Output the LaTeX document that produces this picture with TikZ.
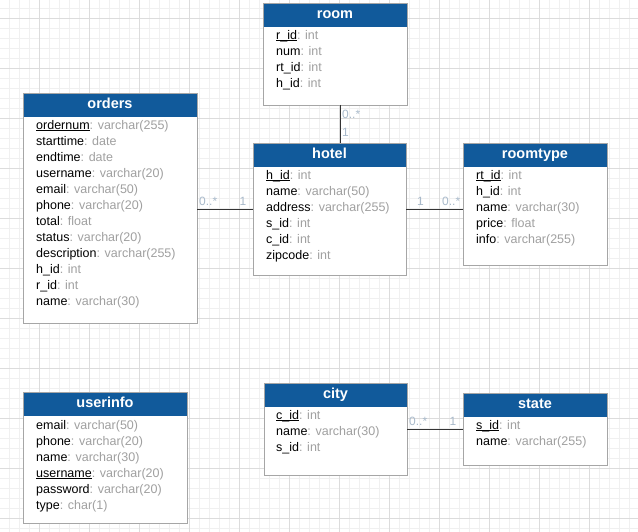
\documentclass[tikz,border=0pt]{standalone}
\usepackage{fontspec}
\setmainfont{Liberation Sans}
\usetikzlibrary{calc}

\definecolor{headblue}{HTML}{115A9B}
\definecolor{boxline}{HTML}{A6A6A6}
\definecolor{typegray}{HTML}{A0A0A0}
\definecolor{multgray}{HTML}{A9BACB}
\definecolor{gridminor}{HTML}{F0F0F0}
\definecolor{gridmajor}{HTML}{DCDCDC}
\definecolor{connline}{HTML}{333333}

% attribute helpers: key name underlined just below the baseline, type in grey
\newcommand\pkey[1]{\setbox0\hbox{#1}\rlap{\rule[-1.8pt]{\wd0}{0.9pt}}\box0}
\newcommand\atype[1]{\textcolor{typegray}{: #1}}

\tikzset{
  entitybox/.style={draw=boxline, fill=white, line width=0.9pt, inner sep=0pt, outer sep=0pt, anchor=north west},
  headbox/.style={fill=headblue, inner sep=0pt, outer sep=0pt, anchor=north west, minimum height=24pt,
    text=white, font=\fontsize{14.5}{16}\selectfont\bfseries, text height=10.5pt, text depth=3pt},
  fieldtext/.style={anchor=base west, inner sep=0pt, font=\fontsize{12.5}{15}\selectfont},
  multlabel/.style={anchor=west, inner sep=0pt, text=multgray, font=\fontsize{12}{14}\selectfont},
  conn/.style={draw=connline, line width=0.9pt},
}

\begin{document}
\begin{tikzpicture}[x=1pt, y=-1pt]
\useasboundingbox (0,0) rectangle (638,532);
\fill[white] (0,0) rectangle (638,532);

% background grid
\foreach \gx in {9,19,...,629} \draw[gridminor, line width=0.8pt] (\gx,0) -- (\gx,532);
\foreach \gy in {8,18,...,528} \draw[gridminor, line width=0.8pt] (0,\gy) -- (638,\gy);
\foreach \gx in {39,89,...,589} \draw[gridmajor, line width=0.8pt] (\gx,0) -- (\gx,532);
\foreach \gy in {18,68,...,518} \draw[gridmajor, line width=0.8pt] (0,\gy) -- (638,\gy);

% ---------- room ----------
\node[entitybox, minimum width=144pt, minimum height=102pt] (room) at (263,3) {};
\node[headbox, minimum width=144pt] (roomH) at (room.north west) {room};
\draw[boxline, line width=0.9pt] (room.north west) rectangle (room.south east);
\node[fieldtext] (room1) at (276,39.5) {\pkey{r\_id}\atype{int}};
\node[fieldtext] (room2) at (276,55.5) {num\atype{int}};
\node[fieldtext] (room3) at (276,71.5) {rt\_id\atype{int}};
\node[fieldtext] (room4) at (276,87.5) {h\_id\atype{int}};

% ---------- orders ----------
\node[entitybox, minimum width=174pt, minimum height=230pt] (orders) at (23,93) {};
\node[headbox, minimum width=174pt] (ordersH) at (orders.north west) {orders};
\draw[boxline, line width=0.9pt] (orders.north west) rectangle (orders.south east);
\node[fieldtext] (ord1) at (36,129.5) {\pkey{ordernum}\atype{varchar(255)}};
\node[fieldtext] (ord2) at (36,145.5) {starttime\atype{date}};
\node[fieldtext] (ord3) at (36,161.5) {endtime\atype{date}};
\node[fieldtext] (ord4) at (36,177.5) {username\atype{varchar(20)}};
\node[fieldtext] (ord5) at (36,193.5) {email\atype{varchar(50)}};
\node[fieldtext] (ord6) at (36,209.5) {phone\atype{varchar(20)}};
\node[fieldtext] (ord7) at (36,225.5) {total\atype{float}};
\node[fieldtext] (ord8) at (36,241.5) {status\atype{varchar(20)}};
\node[fieldtext] (ord9) at (36,257.5) {description\atype{varchar(255)}};
\node[fieldtext] (ord10) at (36,273.5) {h\_id\atype{int}};
\node[fieldtext] (ord11) at (36,289.5) {r\_id\atype{int}};
\node[fieldtext] (ord12) at (36,305.5) {name\atype{varchar(30)}};

% ---------- hotel ----------
\node[entitybox, minimum width=153pt, minimum height=132pt] (hotel) at (253,143) {};
\node[headbox, minimum width=153pt] (hotelH) at (hotel.north west) {hotel};
\draw[boxline, line width=0.9pt] (hotel.north west) rectangle (hotel.south east);
\node[fieldtext] (hot1) at (266,179.5) {\pkey{h\_id}\atype{int}};
\node[fieldtext] (hot2) at (266,195.5) {name\atype{varchar(50)}};
\node[fieldtext] (hot3) at (266,211.5) {address\atype{varchar(255)}};
\node[fieldtext] (hot4) at (266,227.5) {s\_id\atype{int}};
\node[fieldtext] (hot5) at (266,243.5) {c\_id\atype{int}};
\node[fieldtext] (hot6) at (266,259.5) {zipcode\atype{int}};

% ---------- roomtype ----------
\node[entitybox, minimum width=144pt, minimum height=122pt] (roomtype) at (463,143) {};
\node[headbox, minimum width=144pt] (roomtypeH) at (roomtype.north west) {roomtype};
\draw[boxline, line width=0.9pt] (roomtype.north west) rectangle (roomtype.south east);
\node[fieldtext] (rt1) at (476,179.5) {\pkey{rt\_id}\atype{int}};
\node[fieldtext] (rt2) at (476,195.5) {h\_id\atype{int}};
\node[fieldtext] (rt3) at (476,211.5) {name\atype{varchar(30)}};
\node[fieldtext] (rt4) at (476,227.5) {price\atype{float}};
\node[fieldtext] (rt5) at (476,243.5) {info\atype{varchar(255)}};

% ---------- userinfo ----------
\node[entitybox, minimum width=164pt, minimum height=131pt] (userinfo) at (23,392) {};
\node[headbox, minimum width=164pt] (userinfoH) at (userinfo.north west) {userinfo};
\draw[boxline, line width=0.9pt] (userinfo.north west) rectangle (userinfo.south east);
\node[fieldtext] (ui1) at (36,429.5) {email\atype{varchar(50)}};
\node[fieldtext] (ui2) at (36,445.5) {phone\atype{varchar(20)}};
\node[fieldtext] (ui3) at (36,461.5) {name\atype{varchar(30)}};
\node[fieldtext] (ui4) at (36,477.5) {\pkey{username}\atype{varchar(20)}};
\node[fieldtext] (ui5) at (36,493.5) {password\atype{varchar(20)}};
\node[fieldtext] (ui6) at (36,509.5) {type\atype{char(1)}};

% ---------- city ----------
\node[entitybox, minimum width=143pt, minimum height=92pt] (city) at (264,383) {};
\node[headbox, minimum width=143pt] (cityH) at (city.north west) {city};
\draw[boxline, line width=0.9pt] (city.north west) rectangle (city.south east);
\node[fieldtext] (ci1) at (276,419.5) {\pkey{c\_id}\atype{int}};
\node[fieldtext] (ci2) at (276,435.5) {name\atype{varchar(30)}};
\node[fieldtext] (ci3) at (276,451.5) {s\_id\atype{int}};

% ---------- state ----------
\node[entitybox, minimum width=144pt, minimum height=72pt] (state) at (463,393) {};
\node[headbox, minimum width=144pt] (stateH) at (state.north west) {state};
\draw[boxline, line width=0.9pt] (state.north west) rectangle (state.south east);
\node[fieldtext] (st1) at (476,429.5) {\pkey{s\_id}\atype{int}};
\node[fieldtext] (st2) at (476,445.5) {name\atype{varchar(255)}};

% ---------- relationships ----------
\coordinate (roomHotelX) at (340,0);
\coordinate (ordersHotelY) at (0,209);
\coordinate (cityStateY) at (0,429);

\draw[conn] (room.south -| roomHotelX) -- (hotel.north -| roomHotelX);
\node[multlabel] (rhMany) at (342,114) {0..*};
\node[multlabel] (rhOne) at (342,132.5) {1};

\draw[conn] (orders.east |- ordersHotelY) -- (hotel.west |- ordersHotelY);
\node[multlabel] (ohMany) at (199,201) {0..*};
\node[multlabel] (ohOne) at (239.5,201) {1};

\draw[conn] (hotel.east |- ordersHotelY) -- (roomtype.west |- ordersHotelY);
\node[multlabel] (htOne) at (417,201) {1};
\node[multlabel] (htMany) at (442,201) {0..*};

\draw[conn] (city.east |- cityStateY) -- (state.west |- cityStateY);
\node[multlabel] (csMany) at (409,421) {0..*};
\node[multlabel] (csOne) at (449.5,421) {1};
\end{tikzpicture}
\end{document}
